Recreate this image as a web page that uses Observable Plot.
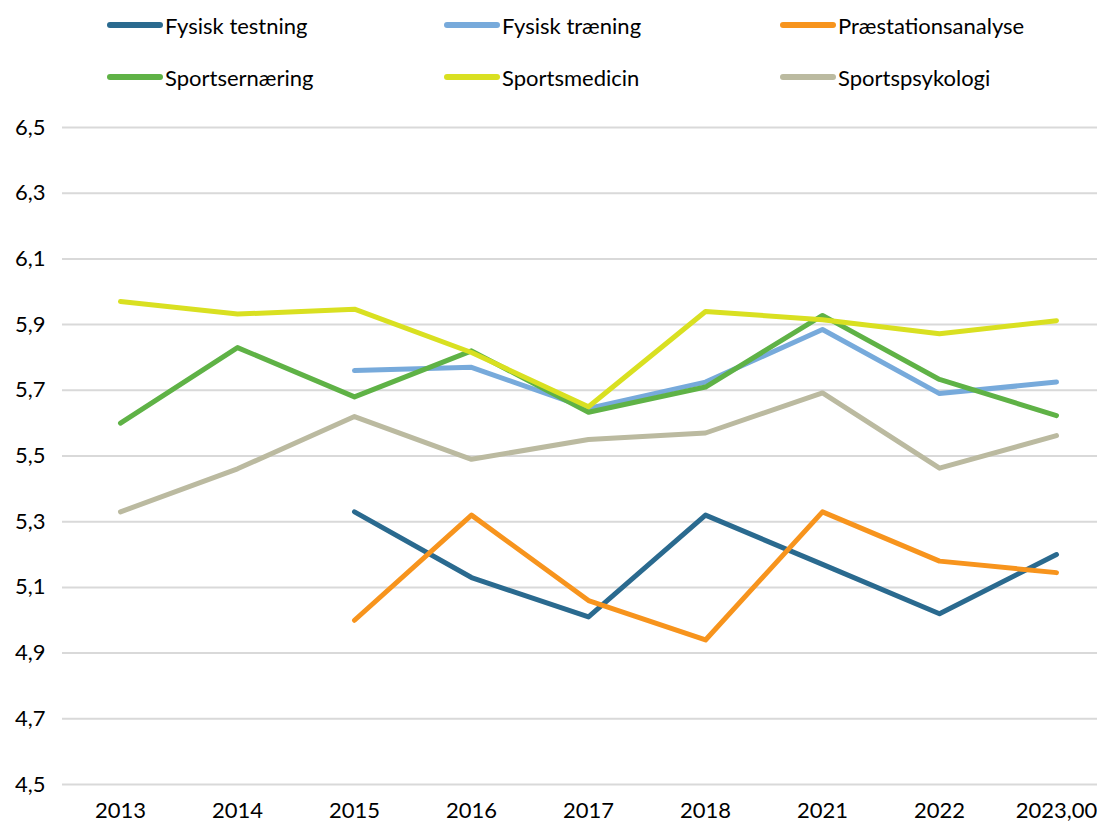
<!DOCTYPE html>
<html>
<head>
<meta charset="utf-8">
<script src="https://cdn.jsdelivr.net/npm/d3@7"></script>
<script src="https://cdn.jsdelivr.net/npm/@observablehq/plot@0.6"></script>
<style>
  html, body { margin: 0; padding: 0; background: #fff; }
  body { width: 1097px; height: 824px; overflow: hidden; font-family: Lato, "Open Sans", sans-serif; }
  #legend { position: relative; width: 1097px; height: 100px; }
  .item { position: absolute; display: flex; align-items: center; font-size: 22px; color: #000; white-space: nowrap; }
  .sw { width: 56px; height: 6px; border-radius: 3px; margin-right: 2px; }
</style>
</head>
<body>
<div id="legend"></div>
<div id="chart"></div>
<script>
const years = ["2013", "2014", "2015", "2016", "2017", "2018", "2021", "2022", "2023,00"];
const seriesNames = ["Fysisk testning", "Fysisk træning", "Præstationsanalyse", "Sportsernæring", "Sportsmedicin", "Sportspsykologi"];
const colors = ["#2A6A8F", "#77AADB", "#F7941D", "#5FB246", "#D9E021", "#BBBAA0"];

const fysiskTestning     = [null, null, 5.33, 5.13, 5.01, 5.32, 5.17, 5.02, 5.20];
const fysiskTraening     = [null, null, 5.76, 5.77, 5.645, 5.725, 5.885, 5.69, 5.725];
const praestationsanalyse = [null, null, 5.00, 5.32, 5.06, 4.94, 5.33, 5.18, 5.145];
const sportsernaering    = [5.60, 5.83, 5.68, 5.82, 5.633, 5.71, 5.928, 5.733, 5.623];
const sportsmedicin      = [5.97, 5.932, 5.947, 5.815, 5.65, 5.94, 5.915, 5.872, 5.912];
const sportspsykologi    = [5.33, 5.461, 5.62, 5.49, 5.55, 5.57, 5.692, 5.463, 5.562];

const yTicks = [4.5, 4.7, 4.9, 5.1, 5.3, 5.5, 5.7, 5.9, 6.1, 6.3, 6.5];

const seriesValues = [fysiskTestning, fysiskTraening, praestationsanalyse, sportsernaering, sportsmedicin, sportspsykologi];
const data = [];
seriesNames.forEach((name, i) => {
  seriesValues[i].forEach((v, j) => {
    if (v != null) data.push({series: name, year: years[j], value: v});
  });
});

// Legend
const legend = document.getElementById("legend");
const colX = [107, 444, 780];
const rowY = [25, 77];
seriesNames.forEach((name, i) => {
  const el = document.createElement("div");
  el.className = "item";
  el.style.left = colX[i % 3] + "px";
  el.style.top = (rowY[Math.floor(i / 3)] - 14) + "px";
  el.style.height = "28px";
  const sw = document.createElement("div");
  sw.className = "sw";
  sw.style.background = colors[i];
  el.appendChild(sw);
  const t = document.createElement("span");
  t.textContent = name;
  el.appendChild(t);
  legend.appendChild(el);
});

const fmt = d => d3.format(".1f")(d).replace(".", ",");

const chart = Plot.plot({
  width: 1097,
  height: 724,
  marginTop: 27,
  marginBottom: 40,
  marginLeft: 62,
  marginRight: 0,
  style: {fontFamily: "Lato, 'Open Sans', sans-serif", fontSize: "22px", color: "#000", background: "#fff"},
  x: {type: "point", domain: years, range: [120, 1056], padding: 0, label: null},
  y: {domain: [4.5, 6.5], label: null},
  color: {domain: seriesNames, range: colors},
  marks: [
    Plot.gridY(yTicks, {stroke: "#d9d9d9", strokeOpacity: 1, strokeWidth: 2}),
    Plot.axisY(yTicks, {tickSize: 0, tickPadding: 17, tickFormat: fmt, label: null, fill: "#000"}),
    Plot.axisX(years, {tickSize: 0, tickPadding: 18, label: null, fill: "#000"}),
    Plot.line(data, {x: "year", y: "value", z: "series", stroke: "series", strokeWidth: 5, strokeLinecap: "round", strokeLinejoin: "round"})
  ]
});
document.getElementById("chart").appendChild(chart);
</script>
</body>
</html>
